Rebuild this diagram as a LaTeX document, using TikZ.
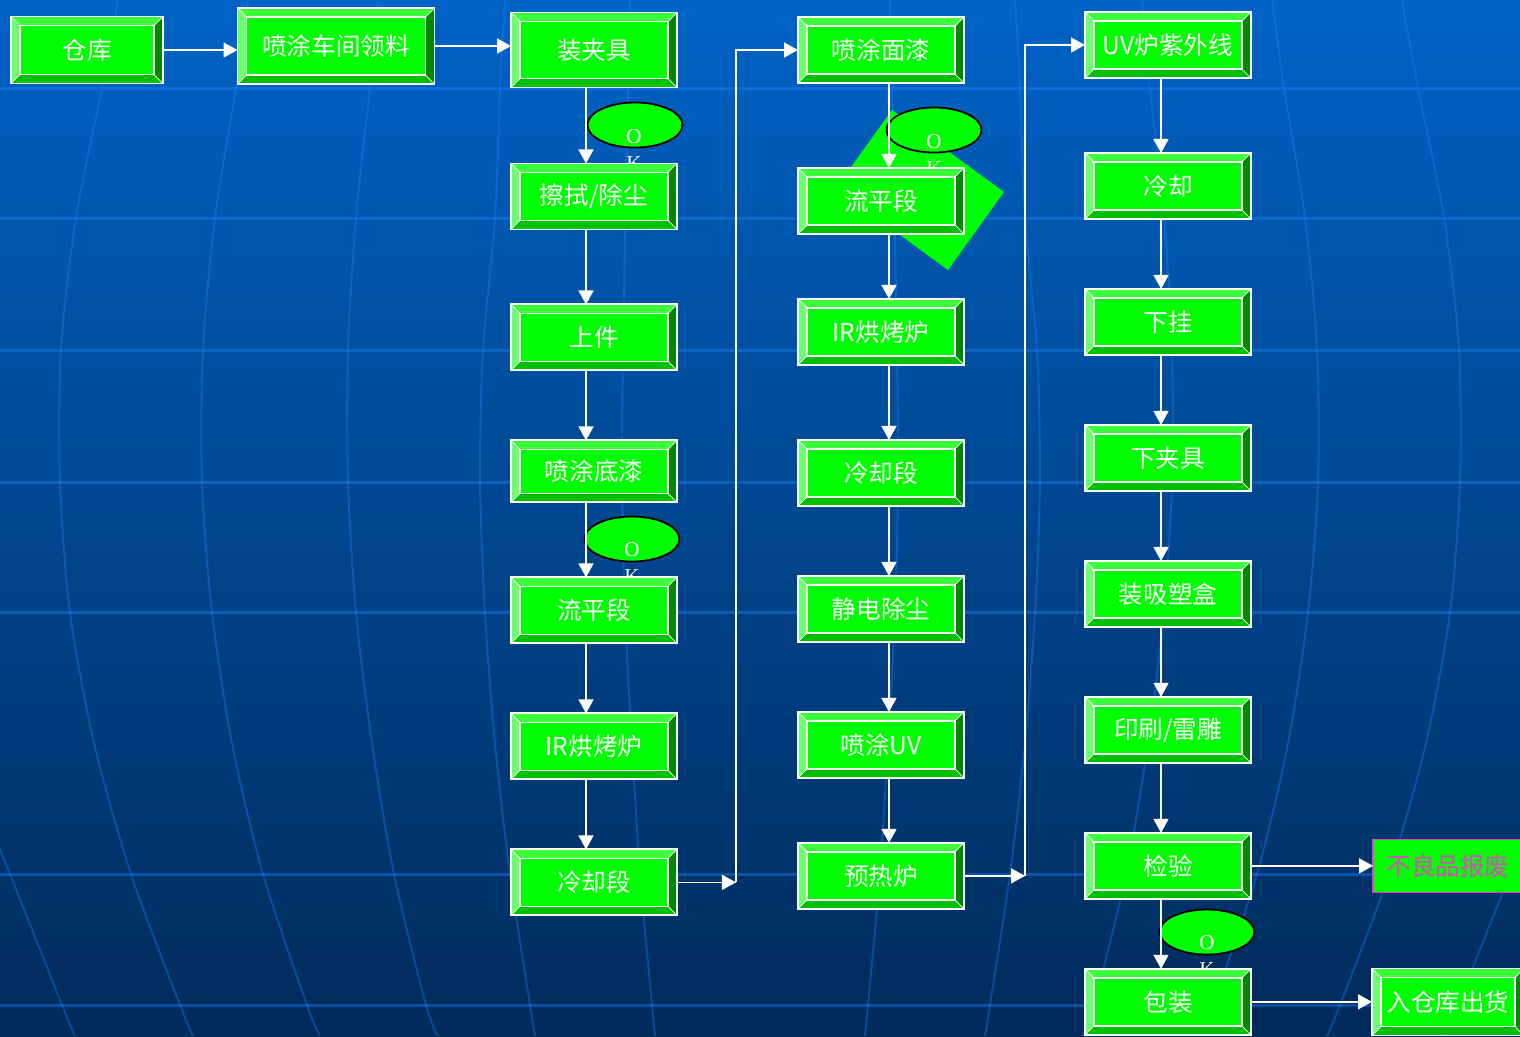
\documentclass[tikz,border=0pt]{standalone}
\usepackage{fontspec}
\newfontfamily\cjk{Noto Sans CJK SC}
\newfontfamily\okfont{Liberation Serif}
\usepackage{tikz}
\usetikzlibrary{arrows.meta, positioning, shapes.geometric}

\definecolor{bgtop}{RGB}{0,99,198}
\definecolor{bgbot}{RGB}{0,42,90}
\definecolor{gridblue}{RGB}{30,130,250}
\definecolor{face}{RGB}{0,255,0}
\definecolor{bevtop}{RGB}{60,255,60}
\definecolor{bevleft}{RGB}{110,255,110}
\definecolor{bevright}{RGB}{0,136,0}
\definecolor{bevbot}{RGB}{0,192,0}
\definecolor{rejpink}{RGB}{225,70,195}
\newcommand\bevw{0.18cm}

\begin{document}
\begin{tikzpicture}[x=0.02cm,y=-0.02cm,
    >={Triangle[length=0.28cm,width=0.3cm]},
    bevbox/.style={rectangle,fill=face,draw=white,line width=1.1pt,
      inner sep=0pt,outer sep=0pt,text=white,
      font=\cjk\fontsize{14}{16}\selectfont,
      minimum width=3.32cm,minimum height=1.32cm,
      path picture={
        \coordinate (pp-nw) at (path picture bounding box.north west);
        \coordinate (pp-ne) at (path picture bounding box.north east);
        \coordinate (pp-sw) at (path picture bounding box.south west);
        \coordinate (pp-se) at (path picture bounding box.south east);
        \fill[bevtop] (pp-nw) -- (pp-ne) -- ([shift={(-\bevw,-\bevw)}]pp-ne)
          -- ([shift={(\bevw,-\bevw)}]pp-nw) -- cycle;
        \fill[bevleft] (pp-nw) -- ([shift={(\bevw,-\bevw)}]pp-nw)
          -- ([shift={(\bevw,\bevw)}]pp-sw) -- (pp-sw) -- cycle;
        \fill[bevright] (pp-ne) -- (pp-se) -- ([shift={(-\bevw,\bevw)}]pp-se)
          -- ([shift={(-\bevw,-\bevw)}]pp-ne) -- cycle;
        \fill[bevbot] (pp-sw) -- (pp-se) -- ([shift={(-\bevw,\bevw)}]pp-se)
          -- ([shift={(\bevw,\bevw)}]pp-sw) -- cycle;
        \draw[white,line width=0.4pt]
          (pp-nw) -- ([shift={(\bevw,-\bevw)}]pp-nw)
          (pp-ne) -- ([shift={(-\bevw,-\bevw)}]pp-ne)
          (pp-sw) -- ([shift={(\bevw,\bevw)}]pp-sw)
          (pp-se) -- ([shift={(-\bevw,\bevw)}]pp-se);
        \draw[white,line width=0.8pt] ([shift={(\bevw,\bevw)}]pp-sw)
          rectangle ([shift={(-\bevw,-\bevw)}]pp-ne);
      }},
    rejbox/.style={rectangle,fill=face,draw=rejpink,line width=1.1pt,
      inner sep=0pt,outer sep=0pt,text=rejpink,
      font=\cjk\fontsize{14}{16}\selectfont,
      minimum width=3cm,minimum height=1.06cm},
    okell/.style={ellipse,draw=black,line width=1pt,fill=face,
      minimum width=1.9cm,minimum height=0.9cm,inner sep=0pt},
    oktxt/.style={text=white,align=center,inner sep=0pt,
      font=\okfont\fontsize{12}{15.3}\selectfont},
    flow/.style={->,draw=white,line width=0.85pt},
    gridln/.style={draw=gridblue,opacity=0.42,line width=1.7pt},
    merid/.style={draw=gridblue,opacity=0.36,line width=1.1pt}]

  \useasboundingbox (0,0) rectangle (1520,1036);
  \clip (0,0) rectangle (1520,1036);
  % background
  \shade[top color=bgtop,bottom color=bgbot] (0,0) rectangle (1520,1036);
  \draw[gridln] (0,88) -- (1520,88) (0,218) -- (1520,218)
    (0,350) -- (1520,350) (0,482) -- (1520,482) (0,612) -- (1520,612)
    (0,874) -- (1520,874) (0,1005) -- (1520,1005);
  \draw[merid] plot[smooth] coordinates {(-20,800) (10,874) (62,1005) (75,1036)};
  \draw[merid] plot[smooth] coordinates {(118,0) (102,88) (76,218) (61,350)
    (60,482) (70,612) (94,743) (131,874) (180,1005) (193,1036)};
  \draw[merid] plot[smooth] coordinates {(248,0) (236,88) (215,218) (203,350)
    (202,482) (212,612) (232,743) (263,874) (307,1005) (320,1036)};
  \draw[merid] plot[smooth] coordinates {(378,0) (370,88) (356,218) (348,350)
    (348,482) (356,612) (372,743) (394,874) (426,1005) (438,1036)};
  \draw[merid] plot[smooth] coordinates {(505,0) (500,88) (495,218) (483,350)
    (480,482) (485,612) (495,743) (510,874) (530,1005) (535,1036)};
  \draw[merid] plot[smooth] coordinates {(630,0) (628,88) (623,350) (622,482)
    (625,612) (632,743) (640,874) (652,1005) (655,1036)};
  \draw[merid] plot[smooth] coordinates {(890,0) (892,88) (897,350) (898,482)
    (895,612) (888,743) (880,874) (868,1005) (865,1036)};
  \draw[merid] plot[smooth] coordinates {(1015,0) (1020,88) (1025,218) (1037,350)
    (1040,482) (1035,612) (1025,743) (1010,874) (990,1005) (985,1036)};
  \draw[merid] plot[smooth] coordinates {(1142,0) (1150,88) (1164,218) (1172,350)
    (1172,482) (1164,612) (1148,743) (1126,874) (1094,1005) (1082,1036)};
  \draw[merid] plot[smooth] coordinates {(1272,0) (1284,88) (1305,218) (1317,350)
    (1318,482) (1308,612) (1288,743) (1257,874) (1213,1005) (1200,1036)};
  \draw[merid] plot[smooth] coordinates {(1402,0) (1418,88) (1444,218) (1459,350)
    (1460,482) (1450,612) (1426,743) (1389,874) (1340,1005) (1327,1036)};
  \draw[merid] plot[smooth] coordinates {(1540,800) (1510,874) (1458,1005) (1445,1036)};

  % green patch behind the second levelling box
  \fill[face] (892,110) -- (1004,192) -- (948,270) -- (836,188) -- cycle;

  % OK marks
  \node[okell] (ok1) at (635,125) {};
  \node[oktxt] (ok1t) at (634,150) {O\\K};
  \node[okell] (ok2) at (934,130) {};
  \node[oktxt] (ok2t) at (934,155) {O\\K};
  \node[okell] (ok3) at (632,539) {};
  \node[oktxt] (ok3t) at (632,563) {O\\K};
  \node[okell] (ok4) at (1207,932) {};
  \node[oktxt] (ok4t) at (1207,956) {O\\K};

  % top row
  \node[bevbox,minimum width=3.04cm,minimum height=1.34cm] (ck) at (87,50) {仓库};
  \node[bevbox,minimum width=3.94cm,minimum height=1.52cm] (ll) at (336,46) {喷涂车间领料};

  % first column
  \node[bevbox,minimum height=1.5cm] (zjj) at (594,50) {装夹具};
  \node[bevbox,below=1.52cm of zjj] (csc) {擦拭/除尘};
  \node[bevbox,below=1.5cm of csc] (sj) {上件};
  \node[bevbox,minimum height=1.24cm,below=1.4cm of sj] (dq) {喷涂底漆};
  \node[bevbox,below=1.5cm of dq] (lp1) {流平段};
  \node[bevbox,below=1.4cm of lp1] (ir1) {IR烘烤炉};
  \node[bevbox,below=1.4cm of ir1] (lq1) {冷却段};

  % second column
  \node[bevbox] (mq) at (881,50) {喷涂面漆};
  \node[bevbox,below=1.7cm of mq] (lp2) {流平段};
  \node[bevbox,below=1.3cm of lp2] (ir2) {IR烘烤炉};
  \node[bevbox,below=1.5cm of ir2] (lq2) {冷却段};
  \node[bevbox,below=1.4cm of lq2] (jd) {静电除尘};
  \node[bevbox,below=1.4cm of jd] (uv) {喷涂UV};
  \node[bevbox,below=1.3cm of uv] (yr) {预热炉};

  % third column
  \node[bevbox] (uvl) at (1168,45) {UV炉紫外线};
  \node[bevbox,below=1.5cm of uvl] (lq3) {冷却};
  \node[bevbox,below=1.4cm of lq3] (xg) {下挂};
  \node[bevbox,below=1.4cm of xg] (xjj) {下夹具};
  \node[bevbox,below=1.4cm of xjj] (xs) {装吸塑盒};
  \node[bevbox,below=1.4cm of xs] (ys) {印刷/雷雕};
  \node[bevbox,below=1.4cm of ys] (jy) {检验};
  \node[bevbox,below=1.4cm of jy] (bz) {包装};

  % outlets
  \node[rejbox,anchor=west] (bf) at (1373,866) {不良品报废};
  \node[bevbox,minimum width=3.04cm,minimum height=1.34cm,anchor=west]
    (ch) at (1372,1002) {入仓库出货};

  % connectors
  \coordinate (c1) at (586,0);
  \coordinate (c2) at (889,0);
  \coordinate (c3) at (1161,0);
  \path (lq1.east) ++(59,0) coordinate (j1);
  \path (yr.east) ++(61,0) coordinate (j2);
  \draw[flow] (ck.east) -- (ck.east -| ll.west);
  \draw[flow] (ll.east) -- (ll.east -| zjj.west);
  \draw[flow] (zjj.south -| c1) -- (csc.north -| c1);
  \draw[flow] (csc.south -| c1) -- (sj.north -| c1);
  \draw[flow] (sj.south -| c1) -- (dq.north -| c1);
  \draw[flow] (dq.south -| c1) -- (lp1.north -| c1);
  \draw[flow] (lp1.south -| c1) -- (ir1.north -| c1);
  \draw[flow] (ir1.south -| c1) -- (lq1.north -| c1);
  \draw[flow] (lq1.east) -- (j1);
  \draw[flow] (j1) |- (mq.west);
  \draw[flow] (mq.south -| c2) -- (lp2.north -| c2);
  \draw[flow] (lp2.south -| c2) -- (ir2.north -| c2);
  \draw[flow] (ir2.south -| c2) -- (lq2.north -| c2);
  \draw[flow] (lq2.south -| c2) -- (jd.north -| c2);
  \draw[flow] (jd.south -| c2) -- (uv.north -| c2);
  \draw[flow] (uv.south -| c2) -- (yr.north -| c2);
  \draw[flow] (yr.east) -- (j2);
  \draw[flow] (j2) |- (uvl.west);
  \draw[flow] (uvl.south -| c3) -- (lq3.north -| c3);
  \draw[flow] (lq3.south -| c3) -- (xg.north -| c3);
  \draw[flow] (xg.south -| c3) -- (xjj.north -| c3);
  \draw[flow] (xjj.south -| c3) -- (xs.north -| c3);
  \draw[flow] (xs.south -| c3) -- (ys.north -| c3);
  \draw[flow] (ys.south -| c3) -- (jy.north -| c3);
  \draw[flow] (jy.south -| c3) -- (bz.north -| c3);
  \draw[flow] (jy.east) -- (jy.east -| bf.west);
  \draw[flow] (bz.east) -- (bz.east -| ch.west);
\end{tikzpicture}
\end{document}
